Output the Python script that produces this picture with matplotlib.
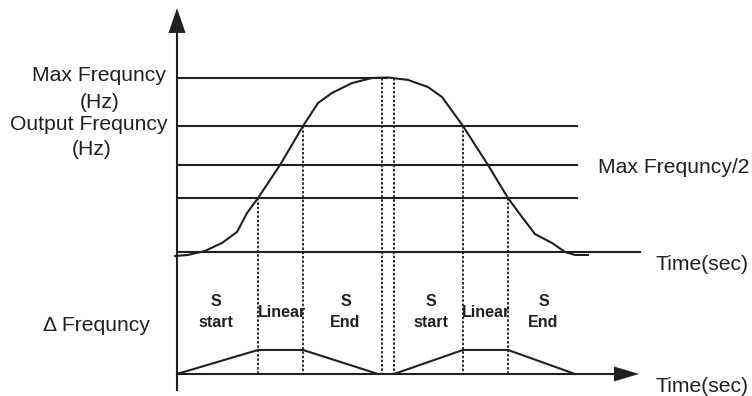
import matplotlib.pyplot as plt

# Time axis in arbitrary units, frequency in % of max frequency
levels = {'max': 100, 'output': 72.4, 'half': 50, 's_level': 31, 'zero': 0}

# S-curve output frequency profile (accel then decel)
t_curve = [-0.2, 1.1, 2.8, 4.5, 6.0, 7.0, 8.1, 10.3, 12.6, 14.1, 15.5, 17.5, 19.5, 21.1,
           23.1, 25.1, 26.5, 28.6, 31.1, 33.1, 34.5, 35.8, 37.5, 38.8, 39.8, 41.1]
f_curve = [-2.3, -1.7, 0.6, 5.2, 11.5, 22.4, 31.0, 50.0, 72.4, 85.6, 91.4, 97.1, 100, 100.3,
           98.9, 94.8, 89.1, 72.4, 50.0, 31.0, 20.1, 10.3, 5.2, 0, -1.7, -1.7]

# section boundaries (dotted) and the level where each one starts
dot_t = [8.1, 12.6, 20.5, 21.7, 28.6, 33.1]
dot_top = [31, 72.4, 100, 100, 72.4, 31]

# delta frequency trapezoids drawn under the time axis
delta_base = -70.1
delta_top = -56.3
accel_t = [0, 8.1, 12.6, 20.1]
decel_t = [21.7, 28.6, 33.1, 39.8]
delta_f = [delta_base, delta_top, delta_top, delta_base]

# section labels: (x, text lines)
section_x = [3.9, 10.5, 16.85, 25.4, 30.9, 36.65]
section_txt = [('S', 'start'), ('Linear',), ('S', 'End'), ('S', 'start'), ('Linear',), ('S', 'End')]

ink = '#231f20'
lw = 1.5
font = 'Liberation Sans'

fig = plt.figure(figsize=(7.52, 3.96), dpi=100)
ax = fig.add_axes([0, 0, 1, 1])
ax.set_xlim(-17.7, 57.5)
ax.set_ylim(-82.76, 144.83)
ax.axis('off')

# reference lines
ax.plot([0, 21], [levels['max']] * 2, color=ink, lw=lw)
for key in ['output', 'half', 's_level']:
    ax.plot([0, 40], [levels[key]] * 2, color=ink, lw=lw)
ax.plot([0, 46.3], [levels['zero']] * 2, color=ink, lw=lw)

# frequency curve
ax.plot(t_curve, f_curve, color=ink, lw=lw, solid_joinstyle='round')

# dotted section markers
for t, top in zip(dot_t, dot_top):
    ax.plot([t, t], [top, delta_base], color=ink, lw=1.3, linestyle=(0, (1.4, 1.0)))

# delta frequency
ax.plot(accel_t, delta_f, color=ink, lw=lw)
ax.plot(decel_t, delta_f, color=ink, lw=lw)

# axes with arrow heads
y_bottom, y_arrow, y_tip = -79.3, 125.9, 140.2
ax.plot([0, 0], [y_bottom, y_arrow], color=ink, lw=lw)
ax.fill([-0.85, 0.85, 0], [y_arrow, y_arrow, y_tip], color=ink, lw=0)
x_arrow, x_tip = 43.7, 46.2
ax.plot([0, x_arrow], [delta_base, delta_base], color=ink, lw=lw)
ax.fill([x_arrow, x_arrow, x_tip], [delta_base + 4.3, delta_base - 4.3, delta_base], color=ink, lw=0)

# labels
fs = 15.2
kw = dict(fontsize=fs, color=ink, family=font, va='baseline')
ax.text(-1.1, 98.3, 'Max Frequncy', ha='right', **kw)
ax.text(-7.75, 83.0, '(Hz)', ha='center', **kw)
ax.text(-1.0, 70.4, 'Output Frequncy', ha='right', **kw)
ax.text(-8.55, 55.7, '(Hz)', ha='center', **kw)
ax.text(42.1, 45.4, 'Max Frequncy/2', ha='left', **kw)
ax.text(47.8, -10.3, 'Time(sec)', ha='left', **kw)
ax.text(47.8, -80.2, 'Time(sec)', ha='left', **kw)
ax.text(-13.4, -45.4, '\u0394 Frequncy', ha='left', **kw)

bkw = dict(fontsize=11.5, color=ink, family=font, weight='bold', ha='center', va='baseline')
for x, lines in zip(section_x, section_txt):
    if len(lines) == 2:
        ax.text(x, -30.9, lines[0], **bkw)
        ax.text(x, -42.9, lines[1], **bkw)
    else:
        ax.text(x, -37.2, lines[0], **bkw)

fig.savefig('out.png', dpi=100)
